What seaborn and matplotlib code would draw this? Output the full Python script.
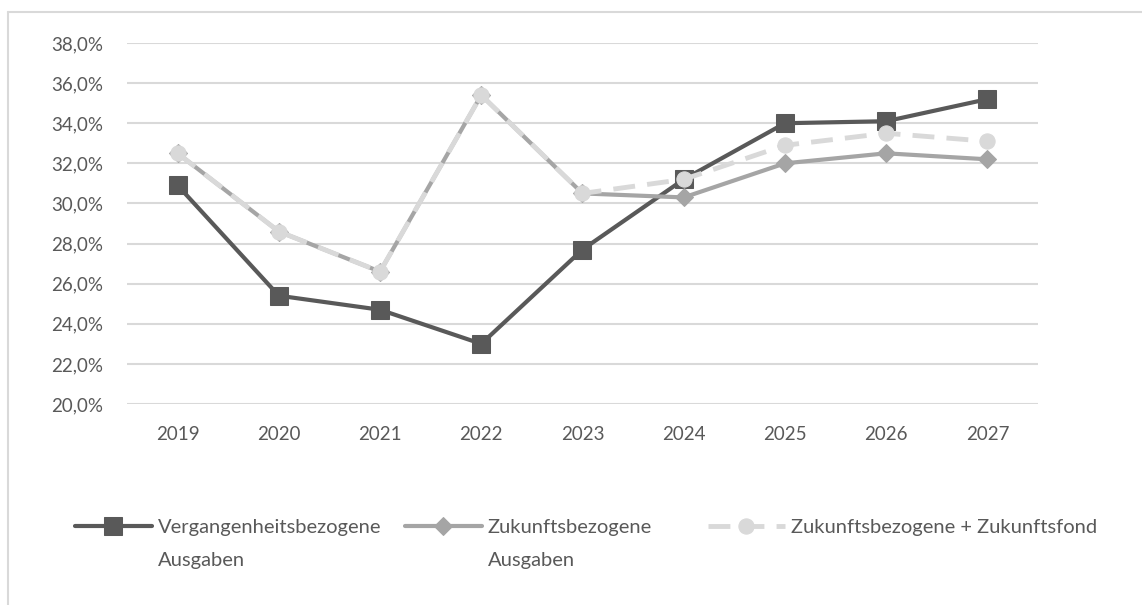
import matplotlib
matplotlib.use('Agg')
import matplotlib.pyplot as plt
import matplotlib.ticker as mticker
from matplotlib.lines import Line2D
import pandas as pd
import seaborn as sns

# ------------------------------------------------------------------ #
# Data
# ------------------------------------------------------------------ #
years = [2019, 2020, 2021, 2022, 2023, 2024, 2025, 2026, 2027]
vergangenheit = [30.9, 25.4, 24.7, 23.0, 27.7, 31.2, 34.0, 34.1, 35.2]
zukunft = [32.5, 28.6, 26.6, 35.4, 30.5, 30.3, 32.0, 32.5, 32.2]
zukunft_fond = [32.5, 28.6, 26.6, 35.4, 30.5, 31.2, 32.9, 33.5, 33.1]

labels = ['Vergangenheitsbezogene\nAusgaben',
          'Zukunftsbezogene\nAusgaben',
          'Zukunftsbezogene + Zukunftsfond']
y_ticks = [20, 22, 24, 26, 28, 30, 32, 34, 36, 38]

DARK = '#595959'
MID = '#a5a5a5'
LIGHT = '#d9d9d9'
TEXT = '#595959'
W, H = 1142, 605

sns.set_style('white')
plt.rcParams['font.family'] = ['Lato', 'DejaVu Sans']

fig = plt.figure(figsize=(W / 100, H / 100), dpi=100)
ax = fig.add_axes([127 / W, 1 - 404 / H, (1038 - 127) / W, (404 - 43) / H])

df = pd.DataFrame({'year': years, 'v': vergangenheit, 'z': zukunft, 'zf': zukunft_fond})

sns.lineplot(data=df, x='year', y='v', ax=ax, color=DARK, lw=3.0,
             marker='s', markersize=13, markeredgecolor=DARK, label=labels[0], zorder=3)
sns.lineplot(data=df, x='year', y='z', ax=ax, color=MID, lw=3.0,
             marker='D', markersize=9, markeredgecolor=MID, label=labels[1], zorder=4)
sns.lineplot(data=df, x='year', y='zf', ax=ax, color=LIGHT, lw=3.5, dashes=(4.5, 2.5),
             marker='o', markersize=11, markeredgecolor=LIGHT, label=labels[2], zorder=5)

ax.set_xlim(2018.5, 2027.5)
ax.set_ylim(20, 38)
ax.set_xticks(years)
ax.set_yticks(y_ticks)
ax.yaxis.set_major_formatter(mticker.FuncFormatter(lambda v, p: f'{v:.1f}%'.replace('.', ',')))
ax.grid(axis='y', color=LIGHT, lw=1.5)
ax.grid(axis='x', visible=False)
for s in ax.spines.values():
    s.set_visible(False)
ax.tick_params(axis='both', length=0, labelsize=13.5, labelcolor=TEXT)
ax.tick_params(axis='y', pad=17)
ax.tick_params(axis='x', pad=16)
ax.set_xlabel('')
ax.set_ylabel('')

# legend: three entries placed like the reference, second label line added below
handles, _ = ax.get_legend_handles_labels()
ax.get_legend().remove()
xs = [75, 405, 708]
legs = []
for h, lab, x0 in zip(handles, labels, xs):
    first = lab.split('\n')[0]
    leg = fig.legend([h], [first], loc='center left', bbox_to_anchor=(x0 / W, 1 - 527 / H),
                     frameon=False, fontsize=14.5, handlelength=3.8, handletextpad=0.3,
                     borderpad=0, borderaxespad=0, labelcolor=TEXT)
    legs.append(leg)

fig.canvas.draw()
for leg, lab in zip(legs, labels):
    parts = lab.split('\n')
    if len(parts) > 1:
        bb = leg.get_texts()[0].get_window_extent()
        fig.text(bb.x0 / W, (bb.y0 - 33) / H + 0.0, parts[1], fontsize=14.5, color=TEXT,
                 ha='left', va='bottom')

# light frame (top and left edges visible in the reference)
fig.add_artist(Line2D([8 / W, 8 / W], [0, 1 - 12 / H], color=LIGHT, lw=1.5))
fig.add_artist(Line2D([8 / W, 1], [1 - 12 / H, 1 - 12 / H], color=LIGHT, lw=1.5))

fig.savefig('out.png', dpi=100)
